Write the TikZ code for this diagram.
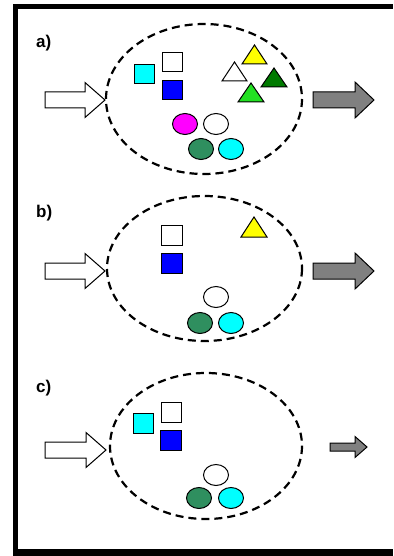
\documentclass[tikz,border=0pt]{standalone}
\usepackage{fontspec}
\setmainfont{Liberation Sans}
\definecolor{dkgreen}{HTML}{007A00}
\definecolor{ltgreen}{HTML}{22E022}
\definecolor{seagrn}{HTML}{2F8F5F}
\definecolor{arrowgray}{HTML}{808080}
\definecolor{aqua}{HTML}{00FFFF}
\definecolor{pinkish}{HTML}{FF00FF}
\definecolor{deepblue}{HTML}{0000FF}
\definecolor{yel}{HTML}{FFFF00}
\newcommand\fatarrow[7]{% x0, x1, yc, shaft half, head half, head length, fill
  \draw[arrowline,fill=#7] (#1,#3-#4) -- (#2-#6,#3-#4) -- (#2-#6,#3-#5) -- (#2,#3)
    -- (#2-#6,#3+#5) -- (#2-#6,#3+#4) -- (#1,#3+#4) -- cycle;}
\newcommand\sq[5]{\draw[shapeline,fill=#5] (#1,#3) rectangle (#2,#4);}
\newcommand\tri[5]{\draw[shapeline,fill=#5] (#1,#3) -- (#2,#3) -- ({(#1+#2)/2},#4) -- cycle;}
\newcommand\blob[3]{\draw[shapeline,fill=#3] (#1,#2) ellipse [x radius=12.5, y radius=10.5];}
\begin{document}
\begin{tikzpicture}[x=1pt,y=-1pt,
  cell/.style={draw=black,line width=2.2pt,dash pattern=on 8pt off 5pt},
  arrowline/.style={draw=black,line width=1pt,line join=miter},
  shapeline/.style={draw=black,line width=1pt},
  lbl/.style={anchor=north west,inner sep=0pt,font=\fontsize{17}{17}\selectfont\bfseries}]
\useasboundingbox (0,0) rectangle (393,556);
\fill[black] (13,4) rectangle (393,556);
\fill[white] (18,9) rectangle (393,549);
% ---------- a)
\node[lbl] (la) at (36,35) {a)};
\draw[cell] (204,99) ellipse [x radius=98, y radius=75];
\fatarrow{45}{105}{100}{8}{17.5}{20}{white}
\fatarrow{313}{374}{100}{8}{18}{19}{arrowgray}
\sq{134}{154}{65}{84}{aqua}
\sq{162}{182}{53}{72}{white}
\sq{162}{182}{81}{100}{deepblue}
\tri{242}{267}{64}{45}{yel}
\tri{222}{247}{81}{62}{white}
\tri{261}{287}{87}{68}{dkgreen}
\tri{238}{264}{102}{83}{ltgreen}
\blob{185}{124}{pinkish}
\blob{216}{124}{white}
\blob{201}{149}{seagrn}
\blob{231}{149}{aqua}
% ---------- b)
\node[lbl] (lb) at (36,205) {b)};
\draw[cell] (204.5,268.5) ellipse [x radius=97.5, y radius=72.5];
\fatarrow{45}{105}{271}{8}{17.5}{20}{white}
\fatarrow{313}{374}{271}{8}{18}{19}{arrowgray}
\sq{161}{182}{225}{245}{white}
\sq{161}{182}{253}{273}{deepblue}
\tri{241}{267}{237}{217}{yel}
\blob{216}{297}{white}
\blob{200}{323}{seagrn}
\blob{231}{323}{aqua}
% ---------- c)
\node[lbl] (lc) at (36,380) {c)};
\draw[cell] (206,446) ellipse [x radius=96, y radius=73];
\fatarrow{45}{106}{450}{8}{17.5}{20}{white}
\fatarrow{330}{367}{447}{4}{10.5}{12}{arrowgray}
\sq{133}{153}{413}{433}{aqua}
\sq{161}{181}{402}{422}{white}
\sq{160}{181}{430}{450}{deepblue}
\blob{216}{475}{white}
\blob{199}{498}{seagrn}
\blob{231}{498}{aqua}
\end{tikzpicture}
\end{document}
